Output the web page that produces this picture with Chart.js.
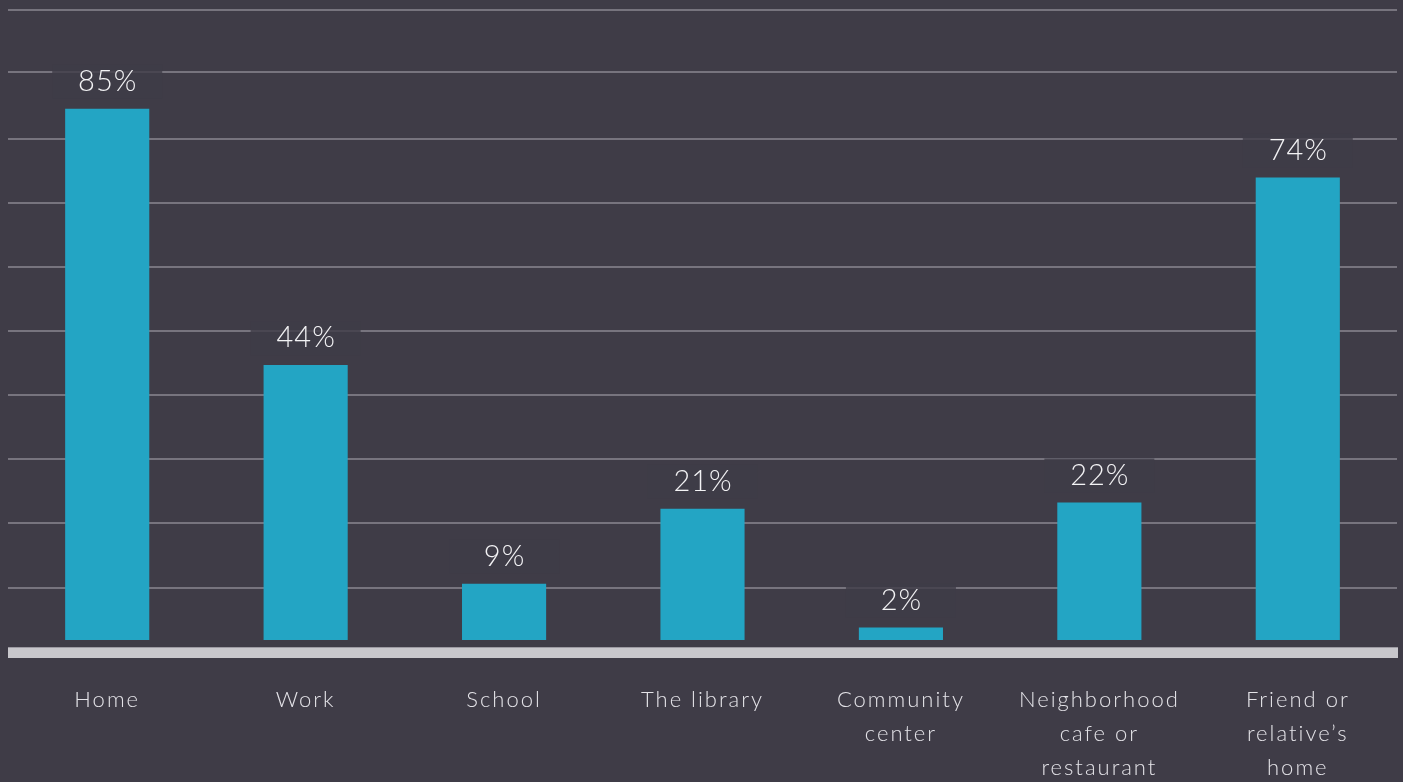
<!DOCTYPE html>
<html>
<head>
<meta charset="utf-8">
<script src="https://cdn.jsdelivr.net/npm/chart.js@4.4.0/dist/chart.umd.min.js"></script>
<style>
html, body { margin: 0; padding: 0; background: #3f3c47; }
#wrap { width: 1403px; height: 782px; position: relative; }
</style>
</head>
<body>
<div id="wrap"><canvas id="chart"></canvas></div>
<script>
const categories = [
    ['Home'],
    ['Work'],
    ['School'],
    ['The library'],
    ['Community', 'center'],
    ['Neighborhood', 'cafe or', 'restaurant'],
    ['Friend or', 'relative\u2019s', 'home'],
];
const shares = [85, 44, 9, 21, 2, 22, 74];
// horizontal rules in the original don't sit on round values
const gridValues = [8.3, 18.7, 29.0, 39.2, 49.4, 59.7, 69.9, 80.2, 90.9, 100.9];

const spacing = {
    id: 'spacing',
    beforeDraw(chart) {
        chart.ctx.letterSpacing = '2px';
    },
};

const baseline = {
    id: 'baseline',
    beforeDatasetsDraw(chart) {
        const { ctx, chartArea } = chart;
        ctx.save();
        ctx.fillStyle = '#c8c7cc';
        ctx.fillRect(chartArea.left, chartArea.bottom - 5.5, chartArea.right - chartArea.left + 1, 11);
        ctx.fillStyle = '#9d9ba3';
        ctx.fillRect(chartArea.left, chartArea.bottom - 5.5, chartArea.right - chartArea.left + 1, 1);
        ctx.restore();
    },
};

const valueLabels = {
    id: 'valueLabels',
    afterDatasetsDraw(chart) {
        const ctx = chart.ctx;
        const meta = chart.getDatasetMeta(0);
        ctx.save();
        ctx.font = '300 29px Lato';
        ctx.letterSpacing = '1px';
        ctx.textAlign = 'center';
        ctx.textBaseline = 'middle';
        meta.data.forEach((bar, i) => {
            const y = bar.y - 27;
            ctx.fillStyle = 'rgba(63,60,71,0.8)';
            ctx.fillRect(bar.x - 55, y - 17, 110, 34);
            ctx.fillStyle = '#f3f3f5';
            ctx.fillText(shares[i] + '%', bar.x + 0.5, y);
        });
        ctx.restore();
    },
};

const ctx = document.getElementById('chart');
new Chart(ctx, {
    type: 'bar',
    data: {
        labels: categories,
        datasets: [
            {
                data: shares,
                backgroundColor: '#23a5c4',
                borderWidth: 0,
                categoryPercentage: 1,
                barPercentage: 0.424,
            },
        ],
    },
    options: {
        responsive: true,
        maintainAspectRatio: false,
        animation: false,
        layout: { padding: { top: 9.5, left: 8, right: 6, bottom: -32.5 } },
        plugins: {
            legend: { display: false },
            tooltip: { enabled: false },
        },
        scales: {
            x: {
                grid: { display: false, drawTicks: false },
                border: { display: false },
                ticks: {
                    color: '#e4e3e8',
                    padding: 30,
                    autoSkip: false,
                    maxRotation: 0,
                    font: { family: 'Lato', size: 22, weight: '300', lineHeight: '34px' },
                },
            },
            y: {
                min: -2,
                max: 100.9,
                afterBuildTicks: (scale) => {
                    scale.ticks = gridValues.map((v) => ({ value: v }));
                },
                grid: { color: '#77747e', lineWidth: 2, drawTicks: false },
                border: { display: false },
                ticks: { display: false },
            },
        },
    },
    plugins: [spacing, baseline, valueLabels],
});
</script>
</body>
</html>
